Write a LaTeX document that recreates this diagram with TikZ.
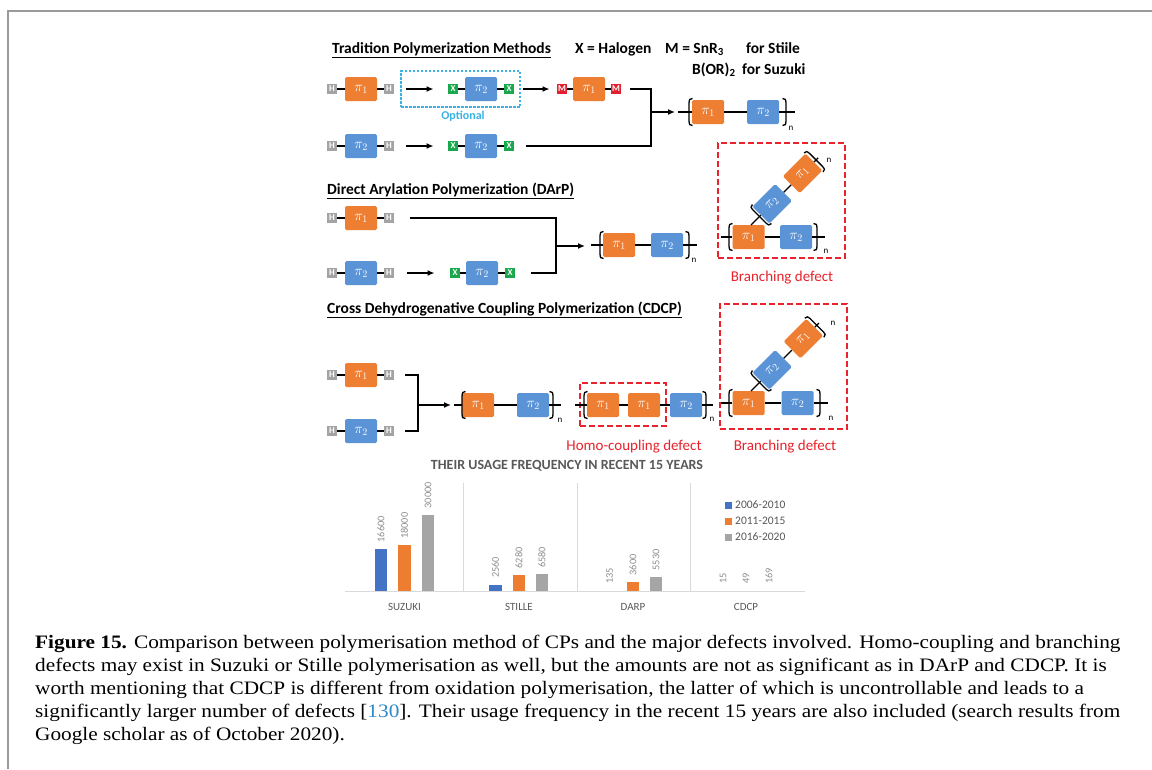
\documentclass[tikz,border=0pt]{standalone}
\usepackage{fontspec}
\setmainfont{Liberation Serif}
\setsansfont{Carlito}
\newfontfamily\capfont{Liberation Serif}[FakeStretch=1.12]
\usetikzlibrary{arrows.meta,calc}
\definecolor{orng}{HTML}{EE7E32}
\definecolor{blu}{HTML}{5A93D6}
\definecolor{hgray}{HTML}{A3A3A3}
\definecolor{xgreen}{HTML}{19A84B}
\definecolor{mred}{HTML}{E5202E}
\definecolor{dred}{HTML}{E8232B}
\definecolor{cyanc}{HTML}{3BB2E4}
\definecolor{cblue}{HTML}{4472C4}
\definecolor{corange}{HTML}{ED7D31}
\definecolor{cgray}{HTML}{A5A5A5}
\definecolor{ctext}{HTML}{595959}
\definecolor{cval}{HTML}{8F8F8F}
\definecolor{cline}{HTML}{D9D9D9}
\definecolor{framegray}{HTML}{9A9A9A}
\definecolor{linkc}{HTML}{2B8AC6}
\tikzset{
  lbrk/.pic={\draw[line width=1.3pt] (3.5,-13.5) .. controls (0.4,-13) .. (0,-9) -- (0,9) .. controls (0.4,13) .. (3.5,13.5);},
  rbrk/.pic={\draw[line width=1.3pt] (-3.5,-13.5) .. controls (-0.4,-13) .. (0,-9) -- (0,9) .. controls (-0.4,13) .. (-3.5,13.5);},
  mono/.style={rectangle, rounded corners=1.5pt, minimum width=32pt, minimum height=24pt, inner sep=0pt, text=white, font=\fontsize{14}{14}\selectfont},
  orm/.style={mono, fill=orng},
  blm/.style={mono, fill=blu},
  endg/.style={rectangle, minimum width=10.5pt, minimum height=10.5pt, inner sep=0pt, text=white, font=\sffamily\bfseries\fontsize{9}{9}\selectfont},
  hend/.style={endg, fill=hgray},
  xend/.style={endg, fill=xgreen},
  mend/.style={endg, fill=mred},
  bond/.style={line width=1.3pt},
  link/.style={line width=1.4pt},
  arr/.style={line width=1.4pt, -{Latex[length=7pt,width=6pt]}},
  nlab/.style={font=\sffamily\fontsize{9}{9}\selectfont, inner sep=0pt},
  hdr/.style={font=\sffamily\bfseries\fontsize{15.5}{16}\selectfont, anchor=base west, inner sep=0pt},
  redbox/.style={draw=dred, line width=1.7pt, dash pattern=on 6pt off 3pt, inner sep=0pt},
  optbox/.style={draw=cyanc, line width=1.1pt, dash pattern=on 2.5pt off 1.5pt, inner sep=0pt, minimum width=119pt, minimum height=36pt},
  deflab/.style={text=dred, font=\sffamily\fontsize{15}{15}\selectfont, inner sep=0pt},
  vlab/.style={text=cval, font=\sffamily\fontsize{10.3}{10}\selectfont, inner sep=0pt, rotate=90, anchor=west},
  catl/.style={text=ctext, font=\sffamily\fontsize{11}{11}\selectfont, inner sep=0pt},
  legl/.style={text=ctext, font=\sffamily\fontsize{11.5}{11}\selectfont, inner sep=0pt, anchor=west},
  captxt/.style={anchor=base west, inner sep=0pt, font=\capfont\fontsize{19}{22}\selectfont}
}
\begin{document}
\begin{tikzpicture}[x=1pt,y=-1pt]
\useasboundingbox (0,0) rectangle (1152,769);
\fill[white] (0,0) rectangle (1152,769);
\draw[framegray, line width=1.3pt] (8,769) -- (8,11) -- (1152,11);

% ---------- Traditional ----------
\node[hdr] (t1) at (332,53) {\underline{Tradition Polymerization Methods}};
\node[hdr] (t1x) at (575,53) {X = Halogen};
\node[hdr] (t1m) at (665,53) {M = SnR\textsubscript{3}};
\node[hdr] (t1s) at (746,53) {for Stiile};
\node[hdr] (t1b) at (692,74) {B(OR)\textsubscript{2}};
\node[hdr] (t1z) at (742,74) {for Suzuki};

% row 1
\node[optbox] (opt) at (460.5,89) {};
\node[font=\sffamily\bfseries\fontsize{12}{12}\selectfont, text=cyanc, inner sep=0pt] (optl) at (463,116) {Optional};
\node[hend] (r1h1) at (332,89) {H};
\node[orm] (r1p) at (361,89) {$\pi_1$};
\node[hend] (r1h2) at (389,89) {H};
\draw[bond] (r1h1) -- (r1p) -- (r1h2);
\node[xend] (r1x1) at (453,89) {X};
\node[blm] (r1q) at (481,89) {$\pi_2$};
\node[xend] (r1x2) at (509,89) {X};
\draw[bond] (r1x1) -- (r1q) -- (r1x2);
\draw[arr] ($(r1h2.east)+(12,0)$) -- ($(r1x1.west)+(-14,0)$);
\node[mend] (r1m1) at (562,89) {M};
\node[orm] (r1r) at (589,89) {$\pi_1$};
\node[mend] (r1m2) at (616,89) {M};
\draw[bond] (r1m1) -- (r1r) -- (r1m2);
\draw[arr] ($(r1x2.east)+(9,0)$) -- ($(r1m1.west)+(-7,0)$);

% row 2
\node[hend] (r2h1) at (332,146) {H};
\node[blm] (r2p) at (361,146) {$\pi_2$};
\node[hend] (r2h2) at (389,146) {H};
\draw[bond] (r2h1) -- (r2p) -- (r2h2);
\node[xend] (r2x1) at (453,146) {X};
\node[blm] (r2q) at (481,146) {$\pi_2$};
\node[xend] (r2x2) at (509,146) {X};
\draw[bond] (r2x1) -- (r2q) -- (r2x2);
\draw[arr] ($(r2h2.east)+(12,0)$) -- ($(r2x1.west)+(-14,0)$);

\coordinate (j1) at (651,89);
\coordinate (j2) at (651,146);
\coordinate (j1m) at (651,112);
\coordinate (j1e) at (675,112);
\draw[link] ($(r1m2.east)+(9,0)$) -- (j1) -- (j2) -- ($(r2x2.east)+(12,0)$);
\draw[arr] (j1m) -- (j1e);

% product 1
\coordinate (p1s) at (678,112);
\coordinate (p1e) at (795,112);
\node[orm] (p1a) at (708,112) {$\pi_1$};
\node[blm] (p1b) at (763,112) {$\pi_2$};
\draw[bond] (p1s) -- (p1a) -- (p1b) -- (p1e);
\pic at (689,112) {lbrk};
\pic at (786,112) {rbrk};
\node[nlab] (p1n) at (791,128) {n};

% ---------- DArP ----------
\node[hdr] (t2) at (327,194) {\underline{Direct Arylation Polymerization (DArP)}};
\node[hend] (r3h1) at (332,218) {H};
\node[orm] (r3p) at (361,218) {$\pi_1$};
\node[hend] (r3h2) at (389,218) {H};
\draw[bond] (r3h1) -- (r3p) -- (r3h2);
\node[hend] (r4h1) at (332,273) {H};
\node[blm] (r4p) at (361,273) {$\pi_2$};
\node[hend] (r4h2) at (389,273) {H};
\draw[bond] (r4h1) -- (r4p) -- (r4h2);
\node[xend] (r4x1) at (455,273) {X};
\node[blm] (r4q) at (482,273) {$\pi_2$};
\node[xend] (r4x2) at (510,273) {X};
\draw[bond] (r4x1) -- (r4q) -- (r4x2);
\draw[arr] ($(r4h2.east)+(13,0)$) -- ($(r4x1.west)+(-15,0)$);
\coordinate (k1) at (556,218);
\coordinate (k2) at (556,273);
\coordinate (k1m) at (556,246);
\coordinate (k1e) at (585,246);
\draw[link] ($(r3h2.east)+(16,0)$) -- (k1) -- (k2) -- ($(r4x2.east)+(16,0)$);
\draw[arr] (k1m) -- (k1e);

% product 2
\coordinate (p2s) at (591,245);
\coordinate (p2e) at (697,245);
\node[orm] (p2a) at (619,245) {$\pi_1$};
\node[blm] (p2b) at (667,245) {$\pi_2$};
\draw[bond] (p2s) -- (p2a) -- (p2b) -- (p2e);
\pic at (600,245) {lbrk};
\pic at (689,245) {rbrk};
\node[nlab] (p2n) at (694,260) {n};

% branching defect (DArP)
\node[redbox, minimum width=127pt, minimum height=115pt] (bd1) at (781.5,200.5) {};
\node[deflab] (bd1l) at (782,278) {Branching defect};
\coordinate (bd1s) at (721,237);
\coordinate (bd1e) at (825,237);
\node[orm] (bd1a) at (748.5,237) {$\pi_1$};
\node[blm] (bd1p) at (796,237) {$\pi_2$};
\draw[bond] (bd1s) -- (bd1a) -- (bd1p) -- (bd1e);
\pic at (729,237) {lbrk};
\pic at (817,237) {rbrk};
\node[nlab] (bd1n) at (826,251) {n};
\begin{scope}[shift={(751,225)}, rotate=45, transform shape]
  \coordinate (bd1o) at (0,0);
  \coordinate (bd1t) at (95,0);
  \node[blm] (bd1b) at (30,0) {$\pi_2$};
  \node[orm] (bd1c) at (73,0) {$\pi_1$};
  \draw[bond] (bd1o) -- (bd1b) -- (bd1c) -- (bd1t);
  \pic at (12,0) {lbrk};
  \pic at (92,0) {rbrk};
\end{scope}
\node[nlab] (bd1m) at (829,160) {n};

% ---------- CDCP ----------
\node[hdr] (t3) at (327,313) {\underline{Cross Dehydrogenative Coupling Polymerization (CDCP)}};
\node[hend] (r5h1) at (332,375) {H};
\node[orm] (r5p) at (361,375) {$\pi_1$};
\node[hend] (r5h2) at (389,375) {H};
\draw[bond] (r5h1) -- (r5p) -- (r5h2);
\node[hend] (r6h1) at (332,431) {H};
\node[blm] (r6p) at (361,431) {$\pi_2$};
\node[hend] (r6h2) at (389,431) {H};
\draw[bond] (r6h1) -- (r6p) -- (r6h2);
\coordinate (m1) at (418,375);
\coordinate (m2) at (418,431);
\coordinate (m1m) at (418,405);
\coordinate (m1e) at (451,405);
\draw[link] ($(r5h2.east)+(11,0)$) -- (m1) -- (m2) -- ($(r6h2.east)+(11,0)$);
\draw[arr] (m1m) -- (m1e);

% product c1
\coordinate (q1s) at (454,405);
\coordinate (q1e) at (561,405);
\node[orm] (q1a) at (478,405) {$\pi_1$};
\node[blm] (q1b) at (533,405) {$\pi_2$};
\draw[bond] (q1s) -- (q1a) -- (q1b) -- (q1e);
\pic at (462,405) {lbrk};
\pic at (553,405) {rbrk};
\node[nlab] (q1n) at (560,420) {n};

% product c2 (homo-coupling)
\node[redbox, minimum width=86pt, minimum height=43pt] (hd) at (623,404.5) {};
\node[deflab] (hdl) at (634,447) {Homo-coupling defect};
\coordinate (q2s) at (575,405);
\coordinate (q2e) at (713,405);
\node[orm] (q2a) at (603,405) {$\pi_1$};
\node[orm] (q2b) at (644,405) {$\pi_1$};
\node[blm] (q2c) at (686,405) {$\pi_2$};
\draw[bond] (q2s) -- (q2a) -- (q2b) -- (q2c) -- (q2e);
\pic at (584,405) {lbrk};
\pic at (706,405) {rbrk};
\node[nlab] (q2n) at (712,419) {n};

% product c3 (branching)
\node[redbox, minimum width=127pt, minimum height=125pt] (bd2) at (783.5,366.5) {};
\node[deflab] (bd2l) at (785,447) {Branching defect};
\coordinate (bd2s) at (721,403);
\coordinate (bd2e) at (828,403);
\node[orm] (bd2a) at (748.5,403) {$\pi_1$};
\node[blm] (bd2p) at (797.5,403) {$\pi_2$};
\draw[bond] (bd2s) -- (bd2a) -- (bd2p) -- (bd2e);
\pic at (729,403) {lbrk};
\pic at (820,403) {rbrk};
\node[nlab] (bd2n) at (831,418) {n};
\begin{scope}[shift={(751,391)}, rotate=45, transform shape]
  \coordinate (bd2o) at (0,0);
  \coordinate (bd2t) at (96,0);
  \node[blm] (bd2b) at (30,0) {$\pi_2$};
  \node[orm] (bd2c) at (74,0) {$\pi_1$};
  \draw[bond] (bd2o) -- (bd2b) -- (bd2c) -- (bd2t);
  \pic at (12,0) {lbrk};
  \pic at (93,0) {rbrk};
\end{scope}
\node[nlab] (bd2m) at (833,323) {n};

% ---------- chart ----------
\node[font=\sffamily\bfseries\fontsize{14}{14}\selectfont, text=ctext, inner sep=0pt] (ct) at (567,466) {THEIR USAGE FREQUENCY IN RECENT 15 YEARS};
\foreach \sx in {463,577,690} \draw[cline, line width=0.8pt] (\sx,483) -- (\sx,591);
% bars: centre, height, colour
\foreach \bx/\bh/\bc in {381/42.05/cblue, 404.5/45.6/corange, 428/76/cgray,
  495.5/6.49/cblue, 519/15.91/corange, 542/16.67/cgray,
  609.5/0.34/cblue, 633/9.12/corange, 656/14.01/cgray,
  723/0.04/cblue, 746/0.12/corange, 769/0.43/cgray}
  \fill[\bc] (\bx-6.25,591) rectangle (\bx+6.25,591-\bh);
\draw[cline, line width=0.8pt] (345,591) -- (805,591);
\node[vlab] (v1) at (381,542.5) {16600};
\node[vlab] (v2) at (404.5,539) {18000};
\node[vlab] (v3) at (428,508.5) {30000};
\node[vlab] (v4) at (495.5,578) {2560};
\node[vlab] (v5) at (519,568.5) {6280};
\node[vlab] (v6) at (542,568) {6580};
\node[vlab] (v7) at (609.5,584) {135};
\node[vlab] (v8) at (633,575.5) {3600};
\node[vlab] (v9) at (656,570.5) {5530};
\node[vlab] (v10) at (723,584) {15};
\node[vlab] (v11) at (746,584) {49};
\node[vlab] (v12) at (769,584) {169};
\node[catl] (k1l) at (404.5,607) {SUZUKI};
\node[catl] (k2l) at (519,607) {STILLE};
\node[catl] (k3l) at (633,607) {DARP};
\node[catl] (k4l) at (746,607) {CDCP};
\fill[cblue] (725,501.5) rectangle (732,508.5);
\fill[corange] (725,517.5) rectangle (732,524.5);
\fill[cgray] (725,533.5) rectangle (732,540.5);
\node[legl] (lg1) at (735,505) {2006-2010};
\node[legl] (lg2) at (735,521) {2011-2015};
\node[legl] (lg3) at (735,537) {2016-2020};

% ---------- caption ----------
\node[captxt] (c1) at (35,648) {\textbf{Figure 15.} Comparison between polymerisation method of CPs and the major defects involved. Homo-coupling and branching};
\node[captxt] (c2) at (35,671) {defects may exist in Suzuki or Stille polymerisation as well, but the amounts are not as significant as in DArP and CDCP. It is};
\node[captxt] (c3) at (35,694) {worth mentioning that CDCP is different from oxidation polymerisation, the latter of which is uncontrollable and leads to a};
\node[captxt] (c4) at (35,717) {significantly larger number of defects [\textcolor{linkc}{130}]. Their usage frequency in the recent 15 years are also included (search results from};
\node[captxt] (c5) at (35,740) {Google scholar as of October 2020).};
\end{tikzpicture}
\end{document}
